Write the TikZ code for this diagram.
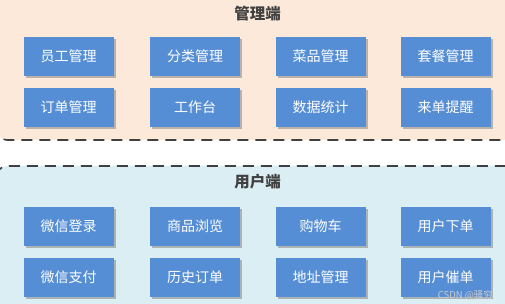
\documentclass[tikz,border=0pt]{standalone}
\usepackage{fontspec}
\usetikzlibrary{shadows}
\newfontfamily\cjk{Noto Sans CJK SC}
\definecolor{zonePeach}{HTML}{FDE9D9}
\definecolor{zoneSky}{HTML}{DAEEF3}
\definecolor{cellBlue}{HTML}{558ED5}
\definecolor{edgeGray}{HTML}{404040}

\begin{document}
\begin{tikzpicture}[x=1pt,y=-1pt,
  zone/.style={draw=edgeGray, line width=1.6pt, dash pattern=on 11pt off 7pt, rounded corners=10pt},
  zonetitle/.style={font={\cjk\bfseries\fontsize{15.5pt}{17pt}\selectfont}, text=edgeGray},
  cell/.style={fill=cellBlue, text=white, minimum width=90pt, minimum height=39pt, inner sep=0pt,
    font={\cjk\fontsize{14pt}{16pt}\selectfont},
    drop shadow={shadow xshift=2pt, shadow yshift=-2pt, fill=black!45, opacity=0.6}}]
\useasboundingbox (0,0) rectangle (505,304);
\clip (0,0) rectangle (505,304);
% Zonen
\draw[zone, fill=zonePeach] (-3,-30) rectangle (530,140);
\draw[zone, fill=zoneSky] (-3,166) rectangle (530,340);
\node[zonetitle] (adminTitle) at (257.5,14) {管理端};
\node[zonetitle] (userTitle) at (257.5,182) {用户端};
% Verwaltung
\node[cell] (aStaff) at (68.5,56.5) {员工管理};
\node[cell] (aCategory) at (195,56.5) {分类管理};
\node[cell] (aDish) at (320.5,56.5) {菜品管理};
\node[cell] (aCombo) at (445.5,56.5) {套餐管理};
\node[cell] (aOrder) at (68.5,107.5) {订单管理};
\node[cell] (aDesk) at (195,107.5) {工作台};
\node[cell] (aStats) at (320.5,107.5) {数据统计};
\node[cell] (aAlert) at (445.5,107.5) {来单提醒};
% Nutzer
\node[cell] (uLogin) at (68.5,226.5) {微信登录};
\node[cell] (uBrowse) at (195,226.5) {商品浏览};
\node[cell] (uCart) at (320.5,226.5) {购物车};
\node[cell] (uPlace) at (445.5,226.5) {用户下单};
\node[cell] (uPay) at (68.5,277.5) {微信支付};
\node[cell] (uHistory) at (195,277.5) {历史订单};
\node[cell] (uAddress) at (320.5,277.5) {地址管理};
\node[cell] (uUrge) at (445.5,277.5) {用户催单};
\node[font={\cjk\fontsize{9.5pt}{10pt}\selectfont}, text=white!80!black, anchor=east, inner sep=0pt] (mark) at (493,295) {CSDN @骚穷};
\end{tikzpicture}
\end{document}
